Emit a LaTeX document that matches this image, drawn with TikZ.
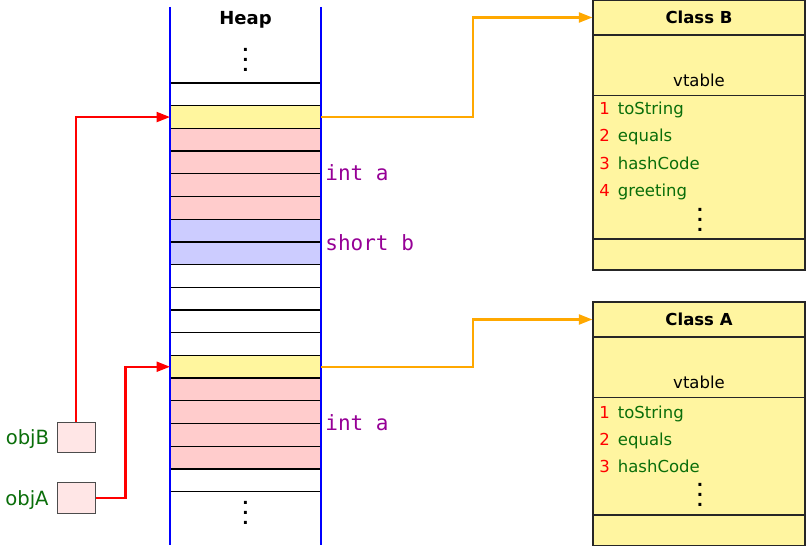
\documentclass[tikz,border=0pt]{standalone}
\usepackage{fontspec}
\setmainfont{DejaVu Sans}
\setmonofont{DejaVu Sans Mono}
\usetikzlibrary{arrows.meta}
\definecolor{heapyellow}{RGB}{255,246,158}
\definecolor{clsyellow}{RGB}{255,245,160}
\definecolor{cellred}{RGB}{255,204,204}
\definecolor{cellblue}{RGB}{204,204,255}
\definecolor{objfill}{RGB}{255,230,230}
\definecolor{txtgreen}{RGB}{10,110,10}
\definecolor{txtpurple}{RGB}{150,0,150}
\definecolor{ptrorange}{RGB}{255,168,0}
\newcommand{\stackdots}{\vbox{\bfseries\baselineskip=5pt\lineskiplimit=0pt\hbox{.}\hbox{.}\hbox{.}}}
\tikzset{
  cell/.style={draw=black,line width=.65pt,minimum width=75.5pt,minimum height=11.35pt,inner sep=0pt,outer sep=0pt},
  heapwall/.style={draw=blue,line width=1pt},
  fieldlbl/.style={anchor=base west,inner sep=0pt,text=txtpurple,font=\ttfamily\fontsize{10.5}{12}\selectfont},
  objbox/.style={draw=black!70,fill=objfill,line width=.5pt,minimum width=19pt,minimum height=15.2pt,inner sep=0pt},
  objlbl/.style={anchor=base east,inner sep=0pt,text=txtgreen,font=\fontsize{9.8}{11}\selectfont},
  clsframe/.style={draw=black!85,fill=clsyellow,line width=.6pt},
  clsline/.style={draw=black!85,line width=.6pt},
  clshead/.style={clsframe,minimum width=106pt,minimum height=17.5pt,inner sep=0pt,font=\bfseries\fontsize{8.25}{10}\selectfont},
  num/.style={anchor=base west,inner sep=0pt,text=red},
  meth/.style={anchor=base west,inner sep=0pt,text=txtgreen},
  ptr/.style={line width=1.1pt,-{Triangle[length=6.75pt,width=5pt]}},
}
\begin{document}
\begin{tikzpicture}[x=.5pt,y=-.5pt,font=\fontsize{8.25}{10}\selectfont]
	\useasboundingbox (0,0) rectangle (806,545);
	% heap cells
	\foreach \i/\c in {0/white,1/heapyellow,2/cellred,3/cellred,4/cellred,5/cellred,6/cellblue,7/cellblue,8/white,9/white,10/white,11/white,12/heapyellow,13/cellred,14/cellred,15/cellred,16/cellred,17/white}
		\node[cell,fill=\c] (r\i) at (245.5,{83+22.7*\i+11.35}) {};
	\draw[heapwall] (170,7) -- (170,545) (321,7) -- (321,545);
	\node[anchor=base,font=\bfseries\fontsize{9}{10}\selectfont] (heap) at (245.5,25) {Heap};
	\node (topdots) at (245.5,60) {\stackdots};
	\node (botdots) at (245.5,513) {\stackdots};
	\node[fieldlbl] (fieldB1) at (325,180.5) {int a};
	\node[fieldlbl] (fieldB2) at (325,250) {short b};
	\node[fieldlbl] (fieldA1) at (325,430.5) {int a};
	% Class B
	\draw[clsframe] (593,0) rectangle (805,270);
	\node[clshead] (hB) at (699,17.5) {Class B};
	\draw[clsline] (593,95.5) -- (805,95.5) (593,239) -- (805,239);
	\node[anchor=base] (vtB) at (699,86.5) {vtable};
	\foreach \n/\m in {1/toString,2/equals,3/hashCode,4/greeting}{
		\node[num] (nB\n) at (599,{114.5+27.4*(\n-1)}) {\n};
		\node[meth] (mB\n) at (617.5,{114.5+27.4*(\n-1)}) {\m};
	}
	\node (dotsB) at (700,220) {\stackdots};
	% Class A
	\draw[clsframe] (593,302) rectangle (805,546);
	\node[clshead] (hA) at (699,319.5) {Class A};
	\draw[clsline] (593,397.5) -- (805,397.5) (593,515) -- (805,515);
	\node[anchor=base] (vtA) at (699,388.5) {vtable};
	\foreach \n/\m in {1/toString,2/equals,3/hashCode}{
		\node[num] (nA\n) at (599,{418+27.4*(\n-1)}) {\n};
		\node[meth] (mA\n) at (617.5,{418+27.4*(\n-1)}) {\m};
	}
	\node (dotsA) at (700,494.7) {\stackdots};
	% variables
	\node[objbox] (objB) at (76,437.5) {};
	\node[objbox] (objA) at (76,498) {};
	\node[objlbl] (lblB) at (49.5,444) {objB};
	\node[objlbl] (lblA) at (49,505) {objA};
	% pointers
	\draw[ptr,red] (objB.north) |- (r1.west);
	\draw[ptr,red] (objA.east) -- ++(30,0) |- (r12.west);
	\draw[ptr,ptrorange] (r1.east) -- ++(152,0) |- (hB.west);
	\draw[ptr,ptrorange] (r12.east) -- ++(152,0) |- (hA.west);
\end{tikzpicture}
\end{document}
